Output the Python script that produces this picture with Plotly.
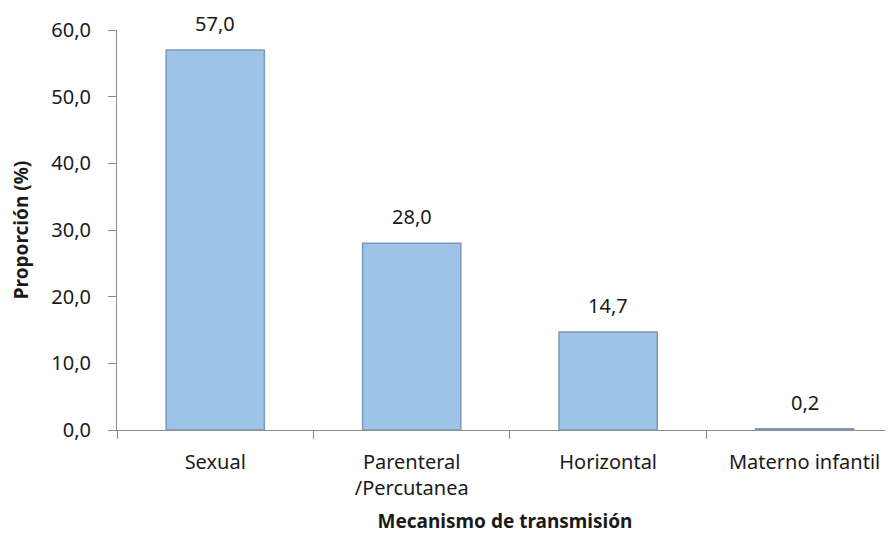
import plotly.graph_objects as go

categories = ["Sexual", "Parenteral<br>/Percutanea", "Horizontal", "Materno infantil"]
values = [57.0, 28.0, 14.7, 0.2]
labels = ["57,0", "28,0", "14,7", "0,2"]
y_ticks = [0, 10, 20, 30, 40, 50, 60]

font_family = "Noto Sans, Open Sans, sans-serif"
text_color = "#1a1a1a"
axis_color = "#8c8c8c"

fig = go.Figure(
    go.Bar(
        x=categories,
        y=values,
        width=0.5,
        marker=dict(color="#9DC3E6", line=dict(color="#7F97B9", width=1.5)),
        hoverinfo="x+y",
    )
)

for cat, val, lab in zip(categories, values, labels):
    fig.add_annotation(
        x=cat, y=val, text=lab, showarrow=False,
        yanchor="bottom", yshift=11,
        font=dict(size=20, color=text_color, family=font_family),
    )

# page body has an 8px default margin; figure is sized to compensate
fig.update_layout(
    width=885,
    height=532,
    margin=dict(l=109, r=0, t=22, b=110),
    plot_bgcolor="white",
    paper_bgcolor="white",
    showlegend=False,
    separators=",.",
    font=dict(family=font_family, size=20, color=text_color),
)

fig.update_xaxes(
    range=[-0.5, 3.45],
    automargin=False,
    showline=True,
    linecolor=axis_color,
    linewidth=1,
    ticks="outside",
    tickson="boundaries",
    ticklen=8,
    tickcolor=axis_color,
    showgrid=False,
    tickfont=dict(size=20),
    ticklabelstandoff=14,
    title=dict(text="<b>Mecanismo de transmisión</b>", font=dict(size=19), standoff=14),
)

fig.update_yaxes(
    range=[0, 60],
    automargin=False,
    tickvals=y_ticks,
    tickformat=".1f",
    showline=True,
    linecolor=axis_color,
    linewidth=1,
    ticks="outside",
    ticklen=8,
    tickcolor=axis_color,
    showgrid=False,
    zeroline=False,
    tickfont=dict(size=20),
    ticklabelstandoff=13,
    title=dict(text="<b>Proporción (%)</b>", font=dict(size=19), standoff=18),
)

fig.write_html("out.html")
